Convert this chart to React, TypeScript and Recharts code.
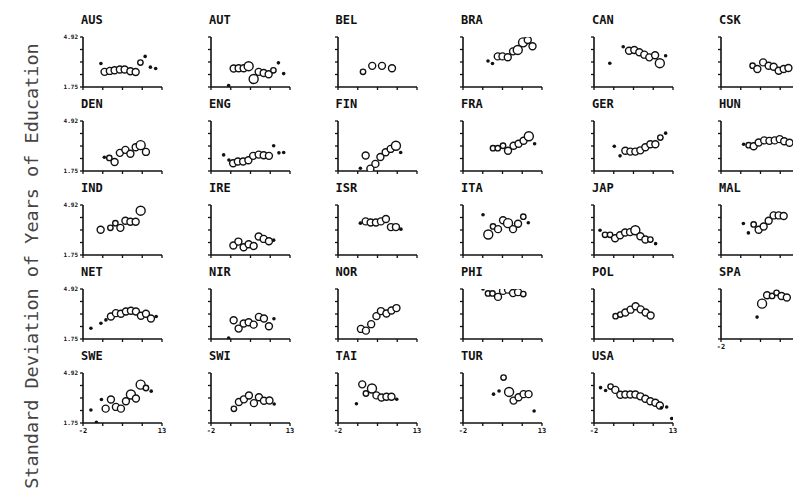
import { ScatterChart, Scatter, XAxis, YAxis } from "recharts";

// axis scales shared by every panel
const X_TICKS = [-2, 1.75, 5.5, 9.25, 13];
const Y_TICKS = [1.75, 2.5425, 3.335, 4.1275, 4.92];

// [x, sd, size]  size 0 = filled dot, 1-3 = open circle (small..large)
const AUS = [[1.4, 3.24, 0], [2.1, 2.71, 2], [3.1, 2.77, 2], [4.0, 2.81, 2], [5.0, 2.86, 2], [5.9, 2.86, 2], [7.0, 2.75, 2], [8.0, 2.7, 2], [8.9, 3.3, 1], [9.8, 3.69, 0], [10.8, 3.01, 0], [11.8, 2.92, 0]];
const AUT = [[1.35, 1.84, 0], [2.3, 2.92, 2], [3.25, 2.94, 2], [4.2, 2.94, 2], [5.15, 3.07, 3], [6.1, 2.26, 3], [7.05, 2.71, 2], [8.0, 2.64, 2], [8.95, 2.56, 2], [9.85, 2.81, 1], [10.8, 3.28, 0], [11.8, 2.6, 0]];
const BEL = [[2.75, 2.71, 1], [4.5, 3.09, 2], [6.35, 3.09, 2], [8.25, 2.94, 2]];
const BRA = [[2.75, 3.4, 0], [3.6, 3.24, 0], [4.6, 3.69, 2], [5.5, 3.69, 2], [6.5, 3.64, 2], [7.5, 4.01, 2], [8.4, 4.1, 3], [9.4, 4.58, 3], [10.3, 4.73, 2], [11.2, 4.33, 2]];
const CAN = [[1.0, 3.26, 0], [3.55, 4.3, 0], [4.65, 4.05, 2], [5.65, 4.1, 2], [6.6, 3.95, 2], [7.55, 3.8, 2], [8.5, 3.63, 2], [9.6, 3.76, 2], [10.5, 3.26, 3], [11.6, 3.73, 0]];
const CSK = [[4.0, 3.1, 1], [4.9, 2.89, 2], [6.0, 3.31, 2], [7.05, 3.1, 2], [8.0, 3.03, 2], [8.95, 2.78, 2], [9.9, 2.89, 2], [10.8, 2.95, 2]];
const DEN = [[2.05, 2.62, 0], [3.0, 2.58, 1], [4.0, 2.32, 2], [5.0, 2.9, 2], [6.05, 3.09, 2], [7.0, 2.84, 2], [8.0, 3.26, 2], [8.95, 3.39, 3], [9.95, 2.96, 2]];
const ENG = [[0.4, 2.77, 0], [1.4, 2.45, 0], [2.2, 2.24, 2], [3.1, 2.35, 2], [4.1, 2.35, 2], [5.1, 2.43, 2], [6.0, 2.71, 2], [7.05, 2.79, 2], [8.0, 2.75, 2], [9.0, 2.71, 2], [9.9, 3.35, 0], [10.9, 2.9, 0], [11.8, 2.92, 0]];
const FIN = [[2.25, 1.92, 0], [3.25, 2.73, 2], [4.15, 1.9, 2], [5.1, 2.2, 2], [6.05, 2.64, 2], [7.05, 2.94, 2], [8.0, 3.15, 2], [9.0, 3.35, 3], [9.9, 2.92, 0]];
const FRA = [[3.7, 3.2, 1], [4.6, 3.2, 1], [5.6, 3.35, 1], [6.55, 3.03, 2], [7.6, 3.35, 2], [8.55, 3.48, 2], [9.5, 3.67, 2], [10.5, 3.95, 3], [11.6, 3.48, 0]];
const GER = [[1.85, 3.32, 0], [2.95, 2.71, 0], [3.95, 3.03, 2], [4.9, 2.98, 2], [5.85, 2.98, 2], [6.8, 3.06, 2], [7.75, 3.26, 2], [8.7, 3.45, 2], [9.65, 3.45, 2], [10.6, 3.87, 1], [11.6, 4.15, 0]];
const HUN = [[2.3, 3.45, 0], [3.25, 3.39, 1], [4.2, 3.32, 2], [5.15, 3.56, 2], [6.2, 3.69, 2], [7.2, 3.66, 2], [8.2, 3.69, 2], [9.15, 3.77, 2], [10.0, 3.64, 2], [11.0, 3.54, 2]];
const IND = [[1.35, 3.35, 2], [3.2, 3.47, 1], [4.15, 3.77, 1], [5.1, 3.47, 2], [6.05, 3.92, 2], [7.0, 3.86, 2], [8.0, 3.86, 2], [8.95, 4.56, 3]];
const IRE = [[2.25, 2.35, 2], [3.2, 2.6, 2], [4.2, 2.24, 2], [5.15, 2.43, 2], [6.1, 2.32, 2], [7.05, 2.92, 2], [8.0, 2.77, 2], [9.0, 2.62, 2], [9.9, 2.69, 0]];
const ISR = [[2.25, 3.77, 0], [3.25, 3.88, 2], [4.2, 3.81, 2], [5.2, 3.81, 2], [6.15, 3.88, 2], [7.1, 4.03, 2], [8.05, 3.52, 2], [9.0, 3.52, 2], [9.95, 3.39, 0]];
const ITA = [[1.8, 4.3, 0], [2.8, 3.05, 3], [3.7, 3.56, 1], [4.65, 3.39, 2], [5.6, 3.95, 2], [6.55, 3.77, 3], [7.5, 3.39, 2], [8.45, 3.73, 2], [9.45, 4.18, 1], [10.4, 3.79, 0]];
const JAP = [[-0.85, 3.32, 0], [0.1, 3.03, 1], [1.05, 3.03, 1], [2.0, 2.81, 2], [2.95, 3.0, 2], [3.9, 3.18, 2], [4.85, 3.2, 2], [5.85, 3.32, 3], [6.8, 2.94, 2], [7.75, 2.73, 2], [8.7, 2.73, 1], [9.7, 2.47, 0]];
const MAL = [[2.25, 3.75, 0], [3.2, 3.15, 0], [4.2, 3.69, 1], [5.15, 3.35, 2], [6.1, 3.56, 2], [7.05, 3.92, 2], [8.0, 4.26, 2], [8.95, 4.26, 2], [9.9, 4.22, 2]];
const NET = [[-0.5, 2.43, 0], [1.4, 2.75, 0], [2.35, 2.96, 0], [3.3, 3.18, 2], [4.25, 3.39, 2], [5.2, 3.35, 2], [6.15, 3.49, 2], [7.1, 3.54, 2], [8.05, 3.49, 2], [9.0, 3.22, 2], [9.95, 3.35, 2], [10.9, 3.05, 2], [11.9, 3.18, 0]];
const NIR = [[1.35, 1.81, 0], [2.3, 2.94, 2], [3.25, 2.41, 2], [4.2, 2.73, 2], [5.15, 2.81, 2], [6.1, 2.66, 2], [7.1, 3.15, 2], [8.05, 3.05, 2], [9.0, 2.56, 2], [9.95, 3.03, 0]];
const NOR = [[2.35, 2.39, 2], [3.3, 2.28, 2], [4.3, 2.69, 2], [5.3, 3.2, 2], [6.15, 3.52, 2], [7.2, 3.37, 2], [8.15, 3.56, 2], [9.1, 3.71, 2]];
const PHI = [[1.8, 4.92, 0], [2.75, 4.64, 1], [3.6, 4.64, 1], [4.65, 4.42, 2], [5.6, 4.8, 2], [6.55, 4.88, 2], [7.5, 4.66, 2], [8.45, 4.72, 2], [9.45, 4.6, 1]];
const POL = [[2.1, 3.2, 1], [3.0, 3.3, 1], [3.95, 3.43, 2], [4.95, 3.61, 2], [5.9, 3.83, 2], [6.85, 3.63, 2], [7.8, 3.43, 2], [8.75, 3.24, 2]];
const SPA = [[4.85, 3.14, 0], [5.8, 3.99, 3], [6.75, 4.52, 2], [7.7, 4.48, 1], [8.55, 4.68, 1], [9.5, 4.48, 2], [10.5, 4.38, 2]];
const SWE = [[-0.5, 2.57, 0], [0.55, 1.79, 0], [1.5, 3.24, 0], [2.3, 2.66, 2], [3.3, 3.24, 2], [4.25, 2.77, 2], [5.2, 2.66, 2], [6.15, 3.13, 2], [7.1, 3.56, 3], [8.05, 3.3, 2], [8.95, 4.18, 3], [9.95, 3.97, 1], [10.95, 3.77, 0]];
const SWI = [[2.35, 2.65, 1], [3.3, 3.08, 2], [4.25, 3.25, 2], [5.2, 3.49, 2], [6.15, 3.01, 2], [7.1, 3.38, 2], [8.05, 3.16, 2], [9.1, 3.18, 2], [10.0, 2.95, 0]];
const TAI = [[1.5, 2.97, 0], [2.6, 4.2, 2], [3.3, 3.62, 1], [4.45, 3.94, 3], [5.3, 3.5, 2], [6.25, 3.37, 2], [7.2, 3.41, 2], [8.15, 3.41, 2], [9.15, 3.26, 0]];
const TUR = [[3.8, 3.58, 0], [4.85, 3.78, 0], [5.7, 4.63, 1], [6.75, 3.72, 3], [7.6, 3.17, 2], [8.55, 3.38, 2], [9.5, 3.58, 2], [10.45, 3.58, 2], [11.5, 2.51, 0]];
const USA = [[-0.75, 3.99, 0], [0.2, 3.81, 0], [1.15, 4.06, 1], [2.05, 3.85, 2], [3.0, 3.54, 2], [3.95, 3.56, 2], [4.9, 3.56, 2], [5.85, 3.56, 2], [6.8, 3.44, 2], [7.75, 3.29, 2], [8.7, 3.13, 2], [9.65, 3.03, 2], [10.5, 2.86, 2], [10.8, 2.72, 0], [11.8, 2.76, 0], [12.75, 2.04, 0]];

const SERIES: Record<string, number[][]> = {
  AUS, AUT, BEL, BRA, CAN, CSK, DEN, ENG, FIN, FRA, GER, HUN, IND, IRE, ISR,
  ITA, JAP, MAL, NET, NIR, NOR, PHI, POL, SPA, SWE, SWI, TAI, TUR, USA,
};

const GRID = [
  ["AUS", "AUT", "BEL", "BRA", "CAN", "CSK"],
  ["DEN", "ENG", "FIN", "FRA", "GER", "HUN"],
  ["IND", "IRE", "ISR", "ITA", "JAP", "MAL"],
  ["NET", "NIR", "NOR", "PHI", "POL", "SPA"],
  ["SWE", "SWI", "TAI", "TUR", "USA"],
];

// pixel position of each panel's y axis / top tick
const COL_X = [83, 211, 337.5, 463, 594, 721];
const ROW_Y = [37, 121, 205, 289, 373];
const AXIS_W = 26;
const TOP = 6;

const INK = "#111";
const RADII = [1.8, 2.7, 3.5, 4.5];

const Dot = (props: any) => {
  const { cx, cy, payload } = props;
  if (cx == null || cy == null) return null;
  const r = RADII[payload.s];
  if (payload.s === 0) return <circle cx={cx} cy={cy} r={r} fill={INK} />;
  return <circle cx={cx} cy={cy} r={r} fill="#fff" stroke={INK} strokeWidth={1.4} />;
};

const Panel = ({ code, row, col }: { code: string; row: number; col: number }) => {
  const data = SERIES[code].map(([x, y, s]) => ({ x, y, s }));
  const showX = row === 4 || code === "SPA";
  const showY = col === 0;
  return (
    <div style={{ position: "absolute", left: COL_X[col] - AXIS_W, top: ROW_Y[row] - TOP }}>
      <div
        style={{
          position: "absolute",
          left: AXIS_W - 2,
          top: -17,
          fontFamily: "DejaVu Sans Mono",
          fontWeight: 700,
          fontSize: 12,
          lineHeight: "12px",
          color: INK,
        }}
      >
        {code}
      </div>
      <ScatterChart width={113} height={70} margin={{ top: TOP, right: 8, bottom: 0, left: 0 }}>
        <XAxis
          type="number"
          dataKey="x"
          domain={[-2, 13]}
          ticks={X_TICKS}
          interval={0}
          height={14}
          tickSize={3}
          allowDataOverflow
          axisLine={{ stroke: INK, strokeWidth: 1.6 }}
          tickLine={{ stroke: INK, strokeWidth: 1.3 }}
          tick={{ fontSize: 7, fontWeight: 700, fill: INK, fontFamily: "DejaVu Sans Mono" }}
          tickFormatter={(v: number) => (showX && (v === -2 || v === 13) ? String(v) : "")}
        />
        <YAxis
          type="number"
          dataKey="y"
          domain={[1.75, 4.92]}
          ticks={Y_TICKS}
          interval={0}
          width={AXIS_W}
          tickSize={3}
          allowDataOverflow
          axisLine={{ stroke: INK, strokeWidth: 1.6 }}
          tickLine={{ stroke: INK, strokeWidth: 1.3 }}
          tick={{ fontSize: 6, fontWeight: 700, fill: INK, fontFamily: "DejaVu Sans Mono" }}
          tickFormatter={(v: number) => (showY && (v === 1.75 || v === 4.92) ? v.toFixed(2) : "")}
        />
        <Scatter data={data} shape={Dot} isAnimationActive={false} />
      </ScatterChart>
    </div>
  );
};

export default function App() {
  return (
    <div
      style={{
        position: "absolute",
        left: 0,
        top: 0,
        width: 793,
        height: 503,
        overflow: "hidden",
        background: "#fff",
      }}
    >
      <div
        style={{
          position: "absolute",
          left: 31,
          top: 266,
          transform: "translate(-50%, -50%) rotate(-90deg)",
          whiteSpace: "nowrap",
          fontFamily: "DejaVu Sans Mono",
          fontSize: 18.5,
          color: "#444",
        }}
      >
        Standard Deviation of Years of Education
      </div>
      {GRID.map((codes, row) =>
        codes.map((code, col) => <Panel key={code} code={code} row={row} col={col} />)
      )}
    </div>
  );
}
